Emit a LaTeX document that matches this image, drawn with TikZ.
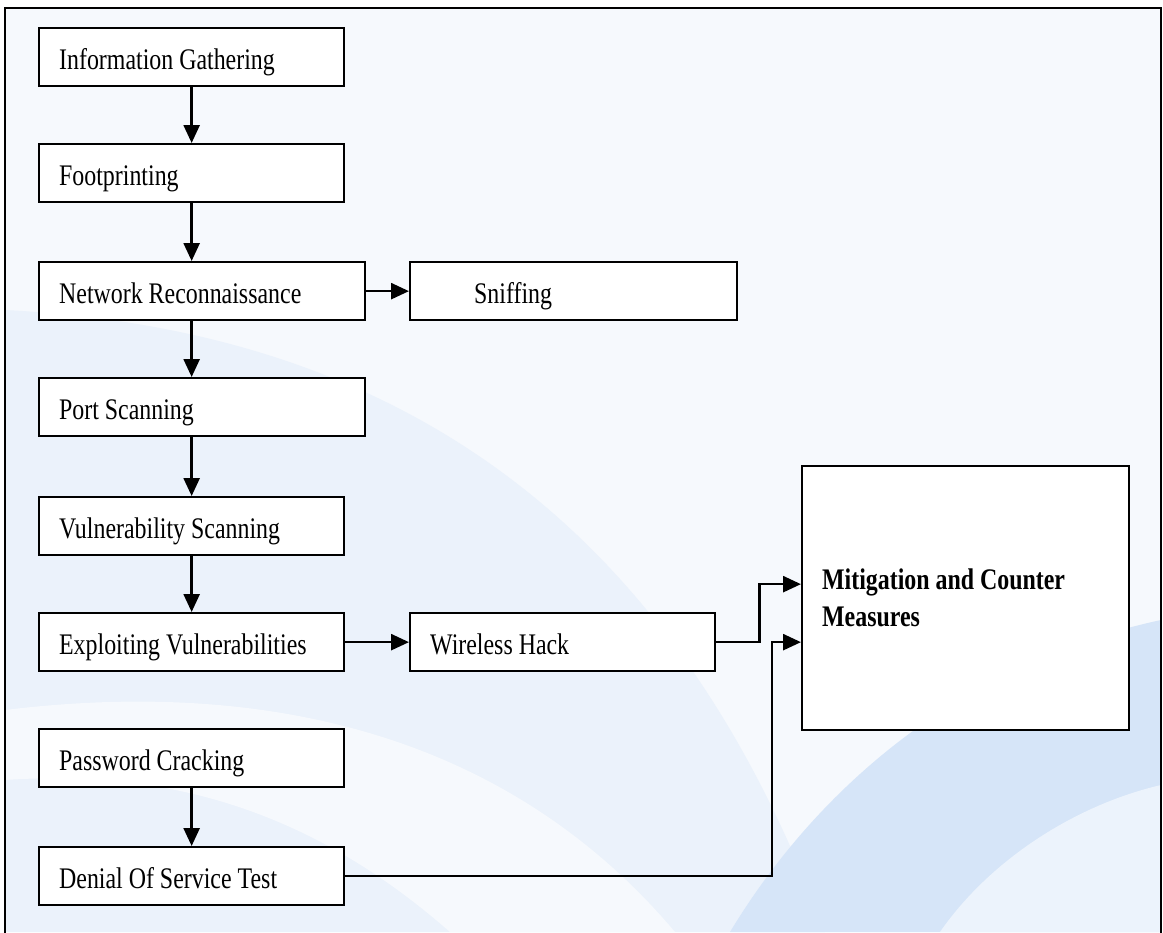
\documentclass[tikz,border=0pt]{standalone}
\usepackage{fontspec}
\setmainfont{Liberation Serif}[FakeStretch=0.8]
\usetikzlibrary{arrows.meta, positioning}
\definecolor{BgBase}{RGB}{246, 249, 253}
\definecolor{BgWave}{RGB}{235, 242, 251}
\definecolor{BgDeep}{RGB}{214, 229, 248}
\definecolor{BgLight}{RGB}{236, 243, 252}

\tikzset{
  boxbase/.style={draw, fill=white, line width=1.3pt, anchor=north west,
    text width=#1, align=left, inner xsep=0.4cm, inner ysep=0pt,
    font=\fontsize{17}{21}\selectfont,
    execute at begin node={\spaceskip=0.2em\relax}},
  stage/.style={boxbase=#1, minimum height=1.16cm, text height=0.5cm, text depth=0pt},
  flow/.style={line width=1.5pt, -{Triangle[length=0.36cm, width=0.32cm]}},
}

\begin{document}
\begin{tikzpicture}
    \useasboundingbox (0,0) rectangle (23.26,-18.64);

    % Background
    \fill[BgBase] (0.1,-0.16) rectangle (23.22,-18.64);
    \fill[BgWave] (0.1,-6.2) .. controls (8,-6.6) and (13.5,-10.5) .. (16.5,-18.64) -- (0.1,-18.64) -- cycle;
    \fill[BgBase] (0.1,-14.2) .. controls (5,-13.6) and (10,-14.5) .. (13.5,-18.64) -- (9,-18.64) .. controls (6,-16) and (3,-15.4) .. (0.1,-15.6) -- cycle;
    \fill[BgDeep] (14.6,-18.64) .. controls (16.5,-15.5) and (19.5,-13.2) .. (23.22,-12.4) -- (23.22,-18.64) -- cycle;
    \fill[BgLight] (18.8,-18.64) .. controls (19.8,-17.2) and (21.5,-16.1) .. (23.22,-15.7) -- (23.22,-18.64) -- cycle;

    % Frame
    \draw[line width=1.3pt] (0.1,-18.9) |- (23.22,-0.16) -- (23.22,-18.9);

    % Main chain
    \node[stage=5.3cm] (info) at (0.76,-0.54) {Information Gathering};
    \node[stage=5.3cm] (foot) at (0.76,-2.86) {Footprinting};
    \node[stage=5.72cm] (netrec) at (0.76,-5.22) {Network Reconnaissance};
    \node[stage=5.74cm] (sniff) at (8.18,-5.22) {\hspace*{0.88cm}Sniffing};
    \node[stage=5.72cm] (port) at (0.76,-7.54) {Port Scanning};
    \node[stage=5.3cm] (vuln) at (0.76,-9.92) {Vulnerability Scanning};
    \node[stage=5.3cm] (exploit) at (0.76,-12.24) {Exploiting Vulnerabilities};
    \node[stage=5.3cm] (wireless) at (8.18,-12.24) {Wireless Hack};
    \node[stage=5.3cm] (pass) at (0.76,-14.56) {Password Cracking};
    \node[stage=5.3cm] (dos) at (0.76,-16.92) {Denial Of Service Test};

    % Result box
    \node[boxbase=5.74cm, minimum height=5.28cm, font=\bfseries\fontsize{17}{21}\selectfont]
      (mit) at (16.02,-9.3) {Mitigation and Counter\\Measures};

    % Arrows down
    \draw[flow] (info) -- (foot);
    \draw[flow] (foot.south) -- (foot.south |- netrec.north);
    \draw[flow] (netrec.south -| foot.south) -- (foot.south |- port.north);
    \draw[flow] (port.south -| foot.south) -- (vuln.north);
    \draw[flow] (vuln) -- (exploit);
    \draw[flow] (pass) -- (dos);

    % Arrows sideways
    \draw[flow] (netrec) -- (sniff);
    \draw[flow] (exploit) -- (wireless);
    \path (mit.west) ++(0,0.28) coordinate (mitup);
    \path (mit.west |- wireless.east) coordinate (mitlow);
    \draw[flow] (wireless.east) -- ++(0.86,0) |- (mitup);
    \draw[flow] (dos.east) -| ([xshift=-0.58cm]mitlow) -- (mitlow);
\end{tikzpicture}
\end{document}
